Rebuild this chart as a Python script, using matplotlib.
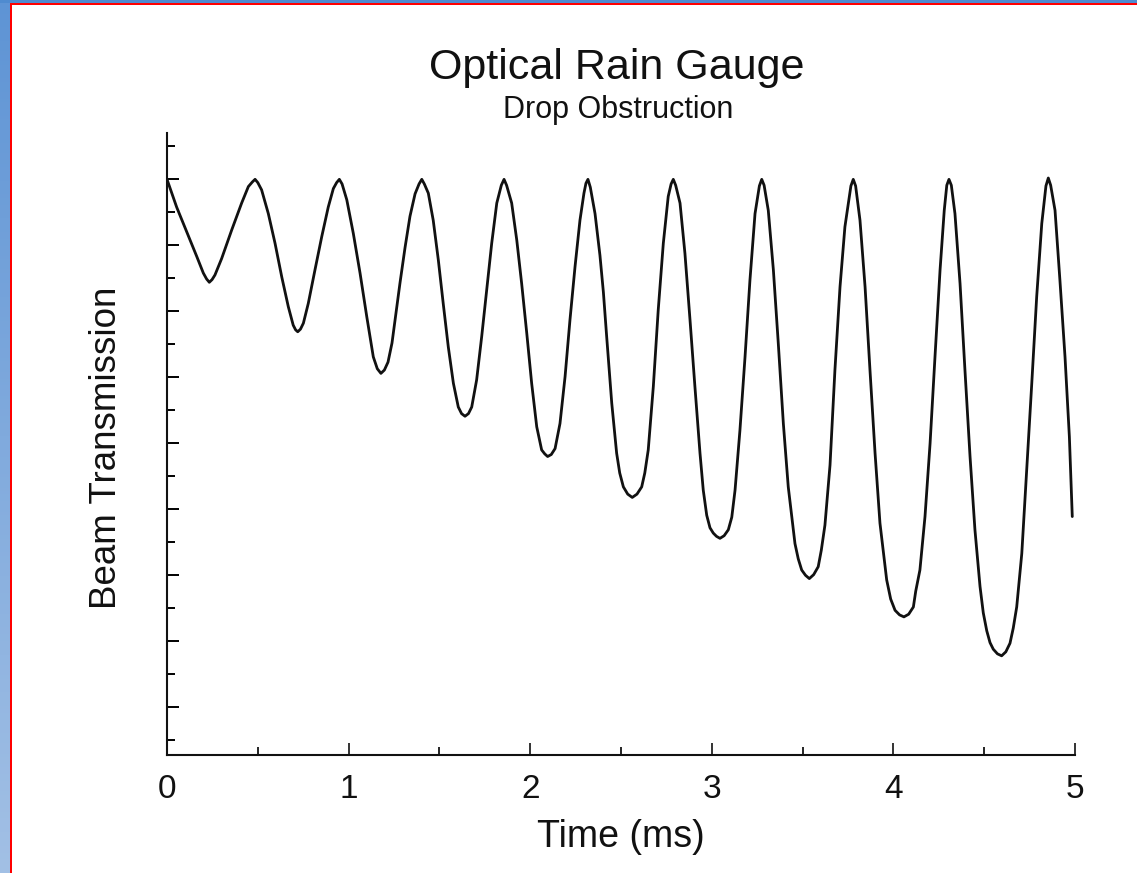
import numpy as np
import matplotlib
matplotlib.use("Agg")
import matplotlib.pyplot as plt
from matplotlib.patches import Rectangle
from matplotlib.colors import LinearSegmentedColormap
from matplotlib.ticker import MultipleLocator, NullFormatter, FixedLocator

# Beam transmission trace (time in ms, relative transmission)
time_ms = [
    0.000, 0.053, 0.108, 0.164, 0.200, 0.218, 0.233, 0.248, 0.264,
    0.301, 0.356, 0.411, 0.448, 0.470, 0.485, 0.500, 0.521,
    0.558, 0.595, 0.632, 0.668, 0.695, 0.708, 0.720, 0.735, 0.751,
    0.778, 0.815, 0.852, 0.888, 0.916, 0.934, 0.949, 0.964, 0.990,
    1.026, 1.063, 1.100, 1.136, 1.158, 1.178, 1.197, 1.217,
    1.239, 1.261, 1.283, 1.311, 1.338, 1.366, 1.388, 1.403, 1.417,
    1.439, 1.466, 1.494, 1.521, 1.549, 1.577, 1.604, 1.622, 1.641, 1.660,
    1.678, 1.705, 1.733, 1.760, 1.788, 1.816, 1.841, 1.856, 1.870,
    1.898, 1.926, 1.953, 1.981, 2.008, 2.036, 2.063, 2.080, 2.096, 2.116,
    2.137, 2.164, 2.192, 2.219, 2.247, 2.274, 2.296, 2.307, 2.318, 2.331,
    2.357, 2.384, 2.403, 2.421, 2.449, 2.476, 2.493, 2.513, 2.537, 2.562, 2.588,
    2.614, 2.631, 2.650, 2.678, 2.705, 2.733, 2.760, 2.776, 2.788, 2.801,
    2.825, 2.852, 2.880, 2.907, 2.935, 2.953, 2.972, 2.990, 3.008, 3.026, 3.045, 3.068,
    3.091, 3.110, 3.128, 3.155, 3.183, 3.210, 3.238, 3.262, 3.275, 3.288,
    3.311, 3.339, 3.366, 3.394, 3.421, 3.458, 3.476, 3.495, 3.516, 3.537, 3.561,
    3.586, 3.603, 3.623, 3.651, 3.678, 3.706, 3.733, 3.766, 3.779, 3.792,
    3.816, 3.844, 3.871, 3.899, 3.926, 3.963, 3.985, 4.009, 4.034, 4.058, 4.084,
    4.110, 4.123, 4.146, 4.174, 4.202, 4.229, 4.257, 4.280, 4.294, 4.306, 4.319,
    4.339, 4.367, 4.394, 4.422, 4.449, 4.477, 4.495, 4.514, 4.532, 4.550, 4.573, 4.596, 4.619,
    4.642, 4.660, 4.679, 4.707, 4.734, 4.762, 4.789, 4.817, 4.840, 4.853, 4.866,
    4.890, 4.917, 4.945, 4.969, 4.985,
]
transmission = [
    1.000, 0.958, 0.921, 0.883, 0.858, 0.849, 0.844, 0.848, 0.855,
    0.880, 0.923, 0.964, 0.989, 0.996, 1.000, 0.995, 0.984,
    0.948, 0.903, 0.852, 0.807, 0.779, 0.772, 0.769, 0.773, 0.782,
    0.812, 0.863, 0.913, 0.958, 0.986, 0.995, 1.000, 0.993, 0.969,
    0.918, 0.858, 0.792, 0.731, 0.713, 0.706, 0.711, 0.723,
    0.752, 0.797, 0.843, 0.897, 0.944, 0.978, 0.993, 1.000, 0.993,
    0.979, 0.938, 0.878, 0.812, 0.746, 0.691, 0.655, 0.645, 0.641, 0.645,
    0.655, 0.696, 0.762, 0.832, 0.903, 0.964, 0.991, 1.000, 0.991,
    0.964, 0.908, 0.842, 0.767, 0.691, 0.625, 0.590, 0.584, 0.580, 0.583,
    0.592, 0.630, 0.701, 0.787, 0.868, 0.938, 0.979, 0.994, 1.000, 0.988,
    0.948, 0.885, 0.829, 0.762, 0.661, 0.585, 0.555, 0.534, 0.523, 0.518, 0.523,
    0.534, 0.555, 0.590, 0.686, 0.802, 0.903, 0.974, 0.993, 1.000, 0.991,
    0.964, 0.888, 0.787, 0.686, 0.585, 0.529, 0.491, 0.472, 0.464, 0.459, 0.456, 0.460,
    0.469, 0.488, 0.529, 0.620, 0.731, 0.847, 0.948, 0.990, 1.000, 0.991,
    0.953, 0.863, 0.752, 0.630, 0.534, 0.448, 0.425, 0.408, 0.400, 0.395, 0.401,
    0.413, 0.438, 0.476, 0.567, 0.711, 0.837, 0.928, 0.990, 1.000, 0.990,
    0.938, 0.837, 0.711, 0.585, 0.479, 0.393, 0.364, 0.347, 0.340, 0.337, 0.341,
    0.352, 0.376, 0.408, 0.489, 0.600, 0.731, 0.863, 0.953, 0.991, 1.000, 0.991,
    0.948, 0.842, 0.711, 0.580, 0.469, 0.383, 0.343, 0.316, 0.298, 0.288, 0.281, 0.278, 0.284,
    0.297, 0.320, 0.352, 0.433, 0.560, 0.691, 0.822, 0.933, 0.990, 1.002, 0.991,
    0.953, 0.847, 0.731, 0.610, 0.489,
]

x_ticks = [0, 1, 2, 3, 4, 5]
x_tick_labels = ["0", "1", "2", "3", "4", "5"]

plt.rcParams["font.family"] = ["Liberation Sans", "DejaVu Sans"]
INK = "#111111"

W, H, DPI = 1137, 873, 100
fig = plt.figure(figsize=(W / DPI, H / DPI), dpi=DPI, facecolor="white")

# Slide frame: blue strips with a red edge line
grad_ax = fig.add_axes([0, 0, 10 / W, 1])
grad = np.linspace(0, 1, 256).reshape(-1, 1)
frame_cmap = LinearSegmentedColormap.from_list("frame", ["#5e94d5", "#a2c0e5"])
grad_ax.imshow(grad, aspect="auto", cmap=frame_cmap, extent=[0, 1, 0, 1], origin="upper")
grad_ax.set_axis_off()
fig.patches.append(Rectangle((0, 1 - 3 / H), 1, 3 / H, transform=fig.transFigure,
                             facecolor="#4f8bd0", edgecolor="none", zorder=5))
fig.patches.append(Rectangle((10 / W, 0), 2 / W, 1 - 3 / H, transform=fig.transFigure,
                             facecolor="#ff0000", edgecolor="none", zorder=6))
fig.patches.append(Rectangle((10 / W, 1 - 5 / H), 1, 2 / H, transform=fig.transFigure,
                             facecolor="#ff0000", edgecolor="none", zorder=6))

ax = fig.add_axes([167 / W, (H - 755) / H, (1075 - 167) / W, (755 - 133) / H])
ax.plot(time_ms, transmission, color=INK, linewidth=2.0,
        solid_joinstyle="round", solid_capstyle="round")

ax.set_xlim(0, 5)
ax.set_ylim(0.1277, 1.0702)

for side in ("top", "right"):
    ax.spines[side].set_visible(False)
for side in ("left", "bottom"):
    ax.spines[side].set_linewidth(1.5)
    ax.spines[side].set_color(INK)

ax.xaxis.set_major_locator(FixedLocator(x_ticks))
ax.set_xticklabels(x_tick_labels)
ax.xaxis.set_minor_locator(MultipleLocator(0.5))
ax.yaxis.set_major_locator(MultipleLocator(0.1))
ax.yaxis.set_minor_locator(FixedLocator(np.arange(0.15, 1.06, 0.1)))
ax.yaxis.set_major_formatter(NullFormatter())

ax.tick_params(axis="x", which="major", direction="in", length=9, width=1.2,
               labelsize=24, pad=14, colors=INK)
ax.tick_params(axis="x", which="minor", direction="in", length=6, width=1.2)
ax.tick_params(axis="y", which="major", direction="in", length=8.5, width=1.4,
               labelleft=False)
ax.tick_params(axis="y", which="minor", direction="in", length=5.5, width=1.4)

# Axis titles placed in figure pixels
fig.text(621 / W, 1 - 847 / H, "Time (ms)", fontsize=27, ha="center",
         va="baseline", color=INK)
fig.text(107 / W, 1 - 448 / H, "Beam Transmission", fontsize=26.5, ha="center",
         va="center", rotation=90, color=INK)

fig.text(617 / W, 1 - 79 / H, "Optical Rain Gauge", fontsize=31, ha="center",
         va="baseline", color=INK)
fig.text(618 / W, 1 - 118 / H, "Drop Obstruction", fontsize=22, ha="center",
         va="baseline", color=INK)

fig.savefig("out.png", dpi=DPI, facecolor="white")
